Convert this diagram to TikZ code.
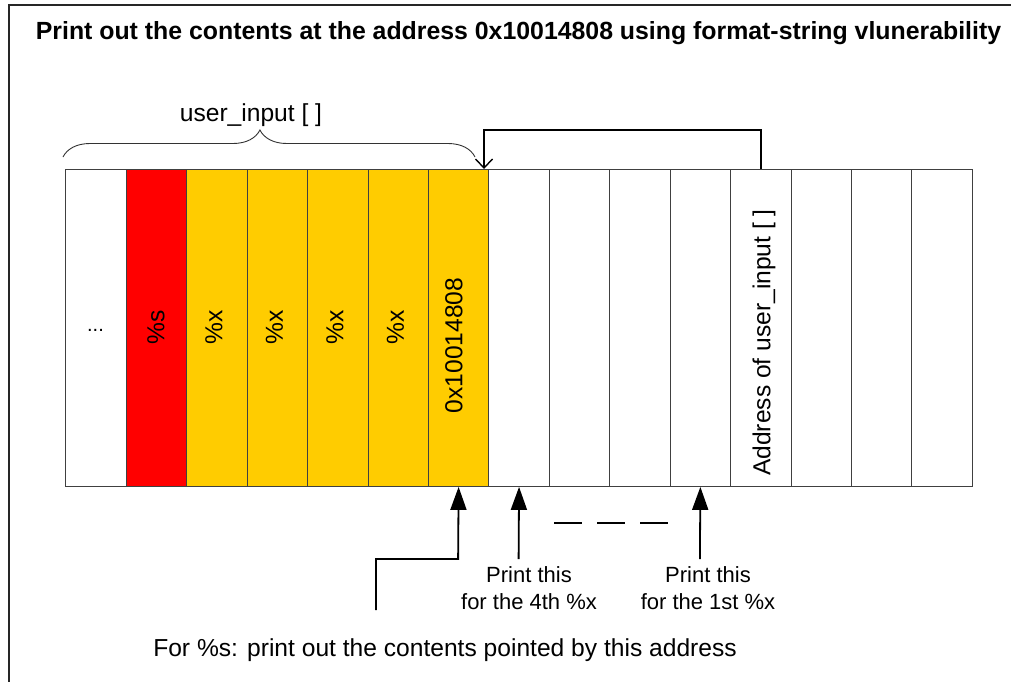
\documentclass[tikz,border=0pt]{standalone}
\usepackage{fontspec}
\setmainfont{Liberation Sans}
\usetikzlibrary{arrows.meta,decorations.pathreplacing}
\newcommand\fsA{\fontsize{24.6}{29}\selectfont}
\newcommand\fsT{\fontsize{24.85}{29}\selectfont}
\newcommand\fsB{\fontsize{22}{26.5}\selectfont}
\definecolor{cellred}{HTML}{FF0000}
\definecolor{cellyel}{HTML}{FFCC00}
\tikzset{
  cell/.style={draw=black!75, line width=0.9pt, minimum width=60.44pt, minimum height=317pt, anchor=north west, inner sep=0pt},
  celltext/.style={rotate=90, font=\fsA, inner sep=0pt},
  fbline/.style={line width=1.6pt, -{Straight Barb[length=9pt,width=17pt,line width=1.4pt]}},
  uparrow/.style={line width=1.8pt, -{Triangle[length=23pt,width=16pt]}},
  lbl/.style={font=\fsB, align=center, inner sep=0pt},
}
\begin{document}
\begin{tikzpicture}[x=1pt,y=-1pt]
\useasboundingbox (0,0) rectangle (1011,681);
\draw[line width=1.5pt, black!85] (9,5) rectangle (1040,720);
\node[font=\fsT\bfseries, inner sep=0pt] (title) at (518.5,33) {Print out the contents at the address 0x10014808 using format-string vlunerability};
% cells
\foreach \i/\col in {0/white,1/cellred,2/cellyel,3/cellyel,4/cellyel,5/cellyel,6/cellyel,7/white,8/white,9/white,10/white,11/white,12/white,13/white,14/white}{
  \node[cell, fill=\col] (c\i) at ({65.3+\i*60.44},169) {};
}
\node[font=\fontsize{20}{24}\selectfont, inner sep=0pt] (dots) at (95.5,330) {...};
\node[celltext] (ts) at (156,327.5) {\%s};
\node[celltext] (tx1) at (214,327.5) {\%x};
\node[celltext] (tx2) at (274.5,327.5) {\%x};
\node[celltext] (tx3) at (335,327.5) {\%x};
\node[celltext] (tx4) at (395.5,327.5) {\%x};
\node[celltext] (taddr) at (454,345.5) {0x10014808};
\node[celltext] (tuser) at (764,342.5) {Address of user\_input [ ]};
% brace
\coordinate (bl) at (63,157);
\coordinate (br) at (475,157);
\draw[line width=0.9pt, black!80, decorate, decoration={brace, amplitude=27pt, aspect=0.478}] (bl) -- (br);
\node[font=\fsA, inner sep=0pt] (ulabel) at (251,115) {user\_input [ ]};
% feedback arrow
\coordinate (fbend) at (484,169);
\draw[fbline] (c11.north) -- ++(0,-39) -| (fbend);
% bottom arrows
\coordinate (s1) at (376,610);
\coordinate (bend) at (458.1,559);
\draw[uparrow] (s1) |- (bend) -- (c6.south);
\coordinate (a4) at (518.6,559);
\draw[uparrow] (a4) -- (c7.south);
\coordinate (a1) at (699.9,559);
\draw[uparrow] (a1) -- (c10.south);
\coordinate (d1) at (554,523);
\coordinate (d2) at (668,523);
\draw[line width=1.5pt, dash pattern=on 28pt off 15pt] (d1) -- (d2);
\node[lbl] (l4) at (529,588) {Print this\\for the 4th \%x};
\node[lbl] (l1) at (708,588) {Print this\\for the 1st \%x};
\node[font=\fsA, inner sep=0pt] (bottom) at (445,650) {For \%s: print out the contents pointed by this address};
\end{tikzpicture}
\end{document}
